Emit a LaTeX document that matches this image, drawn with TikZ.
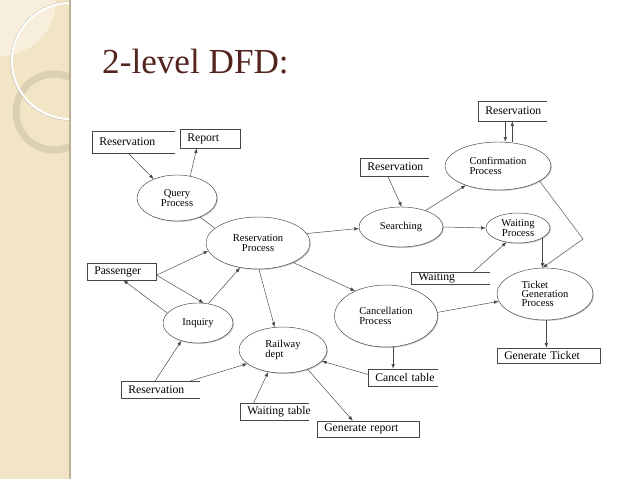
\documentclass[tikz,border=0pt]{standalone}
\usepackage{fontspec}
\setmainfont{Liberation Serif}
\usetikzlibrary{shapes.geometric, arrows.meta, shadows}

\definecolor{linec}{RGB}{70,70,70}
\definecolor{titlec}{RGB}{84,36,30}
\definecolor{stripc}{RGB}{242,229,198}
\definecolor{stripedge}{RGB}{190,176,148}
\definecolor{ringc}{RGB}{200,188,160}

\begin{document}
\begin{tikzpicture}[x=0.03cm, y=-0.03cm,
  proc/.style={ellipse, draw=linec, fill=white, inner sep=0pt, align=center,
    font=\fontsize{9}{8}\selectfont,
    drop shadow={shadow xshift=0.8pt, shadow yshift=-0.8pt, opacity=0.45}},
  store/.style={anchor=west, inner xsep=6pt, inner ysep=1pt, align=left,
    font=\fontsize{10}{11}\selectfont},
  closedstore/.style={store, draw=linec, fill=white,
    drop shadow={shadow xshift=0.6pt, shadow yshift=-0.6pt, opacity=0.35}},
  flow/.style={draw=linec, -{Latex[length=4pt,width=3pt]}}]

\useasboundingbox (0,0) rectangle (638,479);
\fill[white] (0,0) rectangle (638,479);
% side strip
\fill[stripc] (0,0) rectangle (70,479);
\begin{scope}
\clip (0,0) rectangle (70,479);
\fill[white, opacity=0.4] (0,0) circle[radius=56];
\draw[ringc, opacity=0.5, line width=6pt] (54,112) circle[radius=38];
\draw[gray!50, line width=0.4pt] (70,61) circle[radius=59.3];
\draw[white, line width=1.6pt] (70,61) circle[radius=58];
\end{scope}
\draw[stripedge, line width=1.2pt] (70,0) -- (70,479);

% title
\node[anchor=base west, inner sep=0pt, text=titlec, font=\fontsize{30}{30}\selectfont] (title) at (102,74) {2-level DFD:};

% processes
\node[proc, minimum width=2.4cm, minimum height=1.38cm] (query) at (177,198) {Query\\Process};
\node[proc, minimum width=3.12cm, minimum height=1.56cm] (resproc) at (258,243) {Reservation\\Process};
\node[proc, minimum width=2.1cm, minimum height=1.2cm] (inquiry) at (198,323) {Inquiry};
\node[proc, align=left, minimum width=2.64cm, minimum height=1.38cm] (railway) at (283,350) {Railway\\dept};
\node[proc, align=left, minimum width=3.09cm, minimum height=1.86cm] (cancel) at (386,316) {Cancellation\\Process};
\node[proc, minimum width=2.52cm, minimum height=1.2cm] (search) at (401,227) {Searching};
\node[proc, align=left, minimum width=3.18cm, minimum height=1.44cm] (confirm) at (498,166) {Confirmation\\Process};
\node[proc, minimum width=1.92cm, minimum height=0.9cm] (waitproc) at (518,228) {Waiting\\Process};
\node[proc, align=left, minimum width=2.88cm, minimum height=1.56cm] (ticket) at (545,294) {Ticket\\Generation\\Process};

% stores
\node[store, text width=2.04cm, minimum height=0.66cm] (resA) at (92,142) {Reservation};
\node[closedstore, text width=1.38cm, minimum height=0.57cm] (report) at (180,138.5) {Report};
\node[closedstore, text width=1.65cm, minimum height=0.51cm] (passenger) at (87,271.5) {Passenger};
\node[store, text width=1.92cm, minimum height=0.51cm] (resB) at (121,389.5) {Reservation};
\node[store, text width=1.62cm, minimum height=0.51cm] (waittab) at (240,411.5) {\mbox{Waiting table}};
\node[closedstore, text width=2.64cm, minimum height=0.48cm] (genreport) at (317,429) {Generate report};
\node[store, text width=1.65cm, minimum height=0.51cm] (canceltab) at (368,377.5) {\mbox{Cancel table}};
\node[store, text width=1.62cm, minimum height=0.54cm] (resC) at (360,167) {Reservation};
\node[store, text width=1.62cm, minimum height=0.6cm] (resD) at (478,111) {Reservation};
\node[store, text width=1.92cm, minimum height=0.36cm, inner ysep=0pt] (waitbox) at (411,278) {Waiting};
\node[closedstore, text width=2.67cm, minimum height=0.45cm] (genticket) at (497,355.5) {Generate Ticket};

\foreach \n in {resA,resB,waittab,canceltab,resC,resD,waitbox}
  \draw[linec] (\n.north east) -| (\n.south west) -- (\n.south east);

% flows
\draw[flow] (resA.-114) -- (query.141);
\draw[flow] (query.59) -- (report.-144);
\draw[linec] (query.-40) -- (resproc.161);
\draw[flow] (passenger.-6) -- (resproc.189);
\draw[flow] (passenger.-6) -- (inquiry.74);
\draw[flow] (inquiry.62) -- (resproc.-126);
\draw[flow] (inquiry.162) -- (passenger.-80);
\draw[flow] (resproc.-88) -- (railway.110);
\draw[flow] (resB.120) -- (inquiry.-133);
\draw[flow] (resB.16) -- (railway.-159);
\draw[flow] (waittab.157) -- (railway.-124);
\draw[flow] (railway.-38) -- (genreport.152);
\draw[flow] (canceltab.175) -- (railway.-16);
\draw[flow] (cancel.-77) -- (cancel.-77 |- canceltab.north);
\draw[flow] (resproc.-29) -- (cancel.141);
\draw[flow] (resproc.11) -- (search.182);
\draw[flow] (resC.-125) -- (search.88);
\draw[flow] (search.34) -- (confirm.211);
\draw[flow] (search.east) -- (waitproc.west);
\draw[flow] (waitbox.15) -- (waitproc.-129);
\draw[flow] (waitproc.-22) -- (waitproc.-22 |- ticket.north);
\coordinate (bend) at (583,239);
\draw[flow] (confirm.-20) -- (bend) -- (ticket.95);
\draw[flow] (cancel.4) -- (ticket.189);
\draw[flow] (ticket.-87) -- (ticket.-87 |- genticket.north);
\draw[flow] ([xshift=-0.21cm]resD.south) -- ([xshift=-0.21cm]resD.south |- confirm.north);
\draw[flow] (confirm.north -| resD.south) -- (resD.south);
\end{tikzpicture}
\end{document}
